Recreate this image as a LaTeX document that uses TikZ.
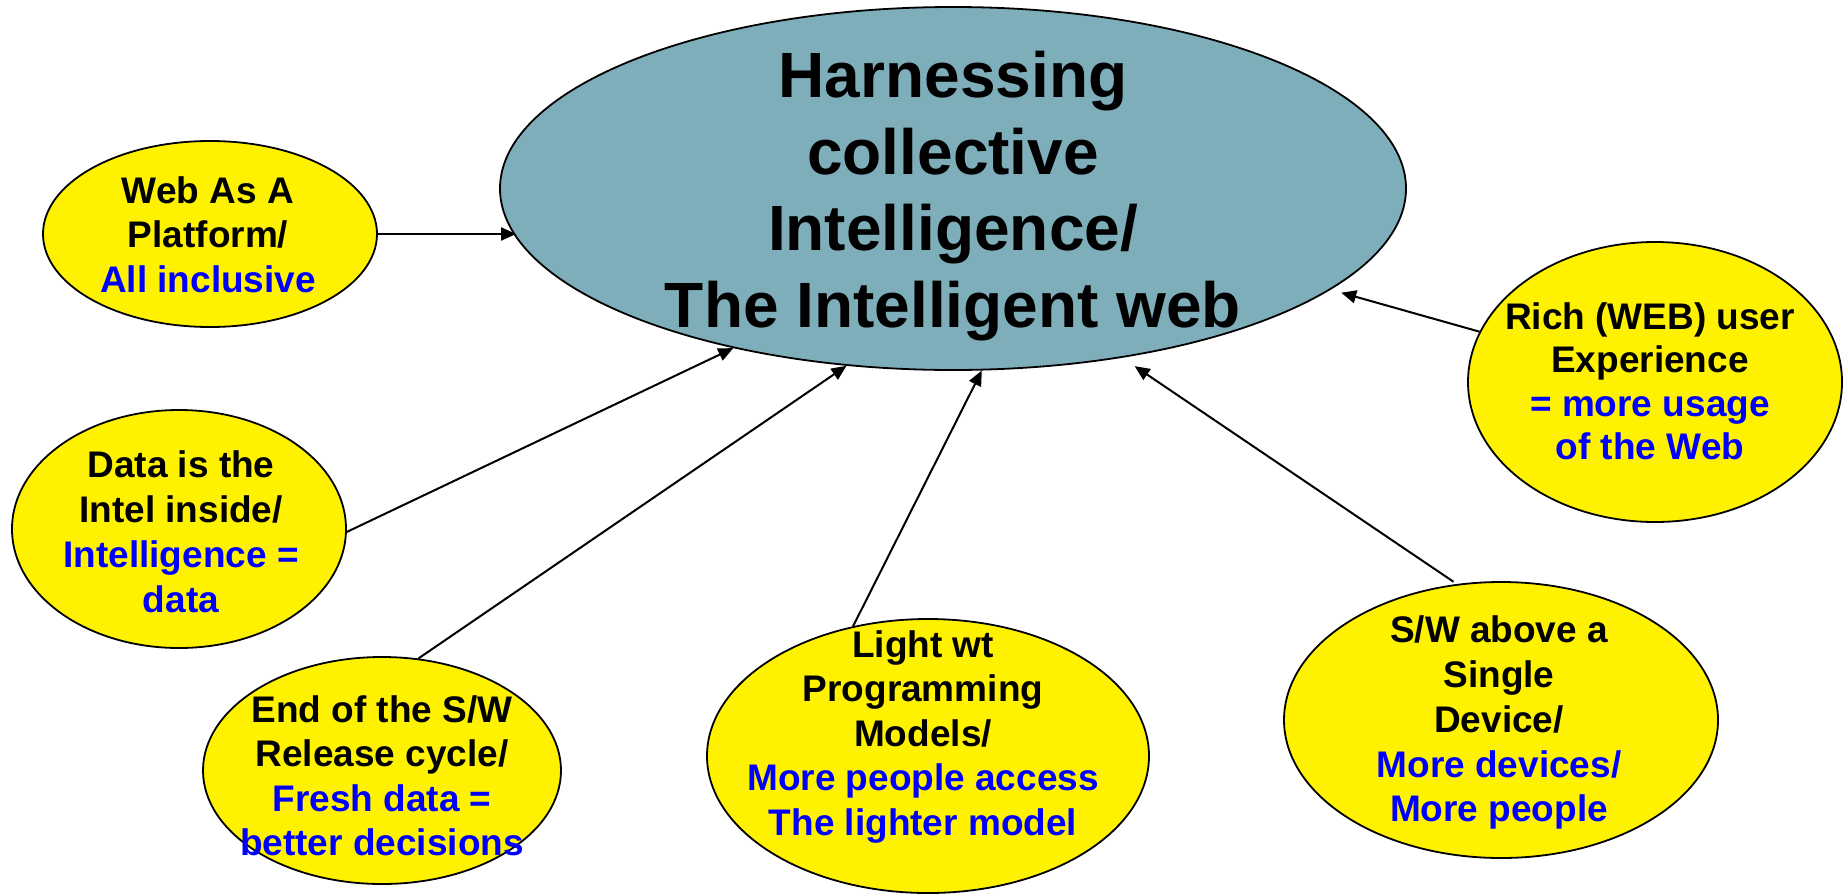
\documentclass[tikz,border=0pt]{standalone}
\usepackage{fontspec}
\setmainfont{Liberation Sans}
\usetikzlibrary{shapes.geometric,arrows.meta}
\definecolor{hubteal}{RGB}{127,174,187}
\definecolor{textblue}{RGB}{0,0,255}
\newcommand{\bluetext}[1]{\textcolor{textblue}{#1}}
\tikzset{
  bubble/.style={ellipse, draw=black, line width=1.8pt, fill=yellow, inner sep=0pt},
  hub/.style={ellipse, draw=black, line width=1.8pt, fill=hubteal, inner sep=0pt},
  conn/.style={draw=black, line width=2pt, -{Triangle[length=15pt,width=13pt]}},
  caption/.style={align=center, inner sep=0pt, text=black},
  small/.style={caption, font=\bfseries\fontsize{37}{#1}\selectfont},
}
\begin{document}
\begin{tikzpicture}[x=1pt, y=-1pt]
\useasboundingbox (0,0) rectangle (1843,894);

% ellipses
\node[hub, minimum width=906pt, minimum height=363pt] (main) at (953,188.5) {};
\node[bubble, minimum width=334pt, minimum height=186pt] (web) at (210,234) {};
\node[bubble, minimum width=334pt, minimum height=238pt] (data) at (179,529) {};
\node[bubble, minimum width=358pt, minimum height=227pt] (end) at (382,770.5) {};
\node[bubble, minimum width=442pt, minimum height=274pt] (light) at (928,756) {};
\node[bubble, minimum width=434pt, minimum height=276pt] (sw) at (1501,720) {};
\node[bubble, minimum width=374pt, minimum height=280pt] (rich) at (1655,382) {};

% connectors into the hub
\draw[conn, shorten >=-17pt] (web.east) -- (web.east -| main.west);
\draw[conn] (data.-1) -- (main.216);
\draw[conn] (end.72) -- (main.239.5);
\draw[conn] (light.120) -- (main.279);
\draw[conn, shorten <=4pt, shorten >=15pt] (sw.108) -- (main.315);
\draw[conn, shorten >=11pt] (rich.164) -- (main.345);

% texts
\node[caption, font=\bfseries\fontsize{64}{76.5}\selectfont] (mainT) at (953,197)
  {\strut Harnessing\\\strut collective\\\strut Intelligence/\\\strut The Intelligent web};
\node[small=44.5] (webT) at (208,239)
  {\strut Web As A\\\strut Platform/\\\strut\bluetext{All inclusive}};
\node[small=45] (dataT) at (181,536)
  {\strut Data is the\\\strut Intel inside/\\\strut\bluetext{Intelligence =}\\\strut\bluetext{data}};
\node[small=44.5] (endT) at (382,780)
  {\strut End of the S/W\\\strut Release cycle/\\\strut\bluetext{Fresh data =}\\\strut\bluetext{better decisions}};
\node[small=44.5] (lightT) at (923,737.5)
  {\strut Light wt\\\strut Programming\\\strut Models/\\\strut\bluetext{More people access}\\\strut\bluetext{The lighter model}};
\node[small=44.75] (swT) at (1499,723.5)
  {\strut S/W above a\\\strut Single\\\strut Device/\\\strut\bluetext{More devices/}\\\strut\bluetext{More people}};
\node[small=43.5] (richT) at (1650,386)
  {\strut Rich (WEB) user\\\strut Experience\\\strut\bluetext{= more usage}\\\strut\bluetext{of the Web}};
\end{tikzpicture}
\end{document}
